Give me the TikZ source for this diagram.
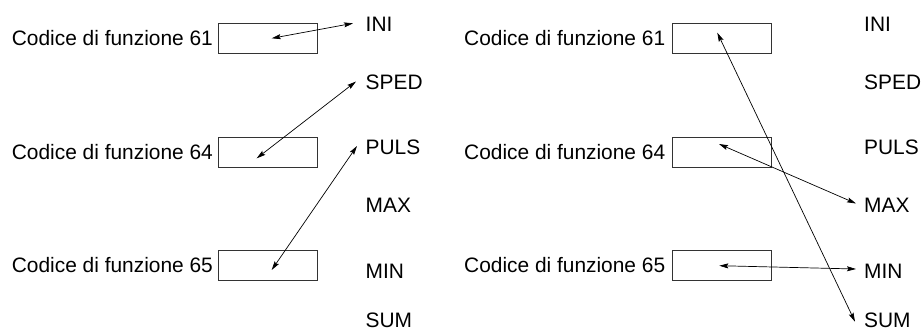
\documentclass[tikz,border=0pt]{standalone}
\usepackage{fontspec}
\setmainfont{Liberation Sans}
\usetikzlibrary{arrows.meta}
\begin{document}
\begin{tikzpicture}[x=1pt,y=-1pt,
  lbl/.style={inner sep=0pt,anchor=base west,font=\fontsize{20.9}{24}\selectfont},
  regbox/.style={draw=black!80,line width=0.9pt,minimum width=99pt,minimum height=30pt,inner sep=0pt,anchor=north west},
  link/.style={line width=0.7pt,{Stealth[length=9pt,width=5pt,inset=1.5pt]}-{Stealth[length=9pt,width=5pt,inset=1.5pt]}}]
\useasboundingbox (0,0) rectangle (921,331);
% left panel
\node[lbl] (lc61) at (11.7,45.5) {Codice di funzione 61};
\node[lbl] (lc64) at (11.7,159.5) {Codice di funzione 64};
\node[lbl] (lc65) at (11.7,272.5) {Codice di funzione 65};
\node[regbox] (lb61) at (218,23) {};
\node[regbox] (lb64) at (218,137) {};
\node[regbox] (lb65) at (218,250) {};
\node[lbl] (lini) at (365.5,31.5) {INI};
\node[lbl] (lsped) at (365.5,90) {SPED};
\node[lbl] (lpuls) at (365.5,155) {PULS};
\node[lbl] (lmax) at (365.5,213) {MAX};
\node[lbl] (lmin) at (365.5,278) {MIN};
\node[lbl,text depth=0pt] (lsum) at (365.5,327.5) {SUM};
% right panel
\node[lbl] (rc61) at (464,45.5) {Codice di funzione 61};
\node[lbl] (rc64) at (464,159.5) {Codice di funzione 64};
\node[lbl] (rc65) at (464,272.5) {Codice di funzione 65};
\node[regbox] (rb61) at (672,23) {};
\node[regbox] (rb64) at (672,137) {};
\node[regbox] (rb65) at (672,250) {};
\node[lbl] (rini) at (864,31.5) {INI};
\node[lbl] (rsped) at (864,90) {SPED};
\node[lbl] (rpuls) at (864,155) {PULS};
\node[lbl] (rmax) at (864,213) {MAX};
\node[lbl] (rmin) at (864,278) {MIN};
\node[lbl,text depth=0pt] (rsum) at (864,327.5) {SUM};
% arrow end points
\coordinate (la1) at (271.7,38.3);
\coordinate (la1e) at (353,23.3);
\coordinate (la2) at (256.7,158.3);
\coordinate (la2e) at (356,81.5);
\coordinate (la3) at (271.7,270);
\coordinate (la3e) at (357,146);
\coordinate (ra1) at (717.3,32.7);
\coordinate (ra1e) at (855,321.7);
\coordinate (ra2) at (719,144);
\coordinate (ra2e) at (856,203.5);
\coordinate (ra3) at (719.3,265.7);
\coordinate (ra3e) at (856,269);
\draw[link] (la1) -- (la1e);
\draw[link] (la2) -- (la2e);
\draw[link] (la3) -- (la3e);
\draw[link] (ra1) -- (ra1e);
\draw[link] (ra2) -- (ra2e);
\draw[link] (ra3) -- (ra3e);
\end{tikzpicture}
\end{document}
